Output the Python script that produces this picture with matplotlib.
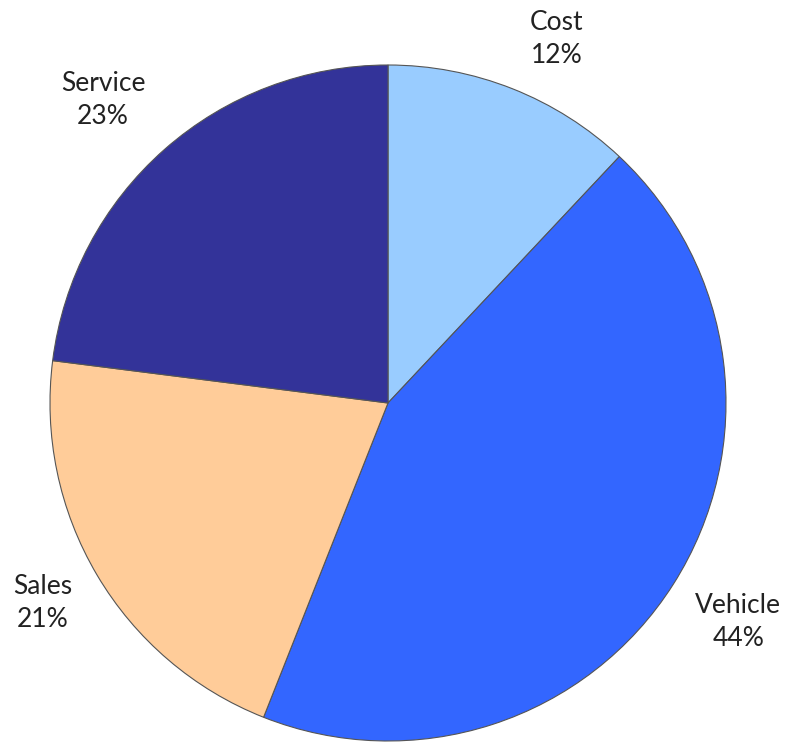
import matplotlib
matplotlib.use('Agg')
import matplotlib.pyplot as plt

# slices, clockwise from 12 o'clock
names = ['Cost', 'Vehicle', 'Sales', 'Service']
shares = [12, 44, 21, 23]
colors = ['#99ccff', '#3366ff', '#ffcc99', '#333399']

plt.rcParams['font.family'] = ['Lato', 'DejaVu Sans']

fig = plt.figure(figsize=(7.86, 7.42), dpi=100)
fig.set_facecolor('white')
ax = fig.add_axes([0, 0, 1, 1])

labels = ['%s\n%d%%' % (n, s) for n, s in zip(names, shares)]
wedges, texts = ax.pie(shares, labels=labels, colors=colors, startangle=90,
                       counterclock=False, labeldistance=1.2,
                       wedgeprops=dict(edgecolor='#555555', linewidth=0.8),
                       textprops=dict(fontsize=19, color='#222222', linespacing=1.4))

# label centres as placed in the original (pie radius = 1)
label_pos = [(0.500, 1.077), (1.036, -0.648), (-1.021, -0.592), (-0.843, 0.896)]
for t, p in zip(texts, label_pos):
    t.set_position(p)
    t.set_ha('center')
    t.set_va('center')

# pie centre at (388, 403) px, radius ~338 px
r = 338.0
ax.set_xlim(-388 / r, (786 - 388) / r)
ax.set_ylim(-(742 - 403) / r, 403 / r)
ax.set_aspect('auto')
ax.axis('off')

fig.savefig('out.png', dpi=100, facecolor='white')
